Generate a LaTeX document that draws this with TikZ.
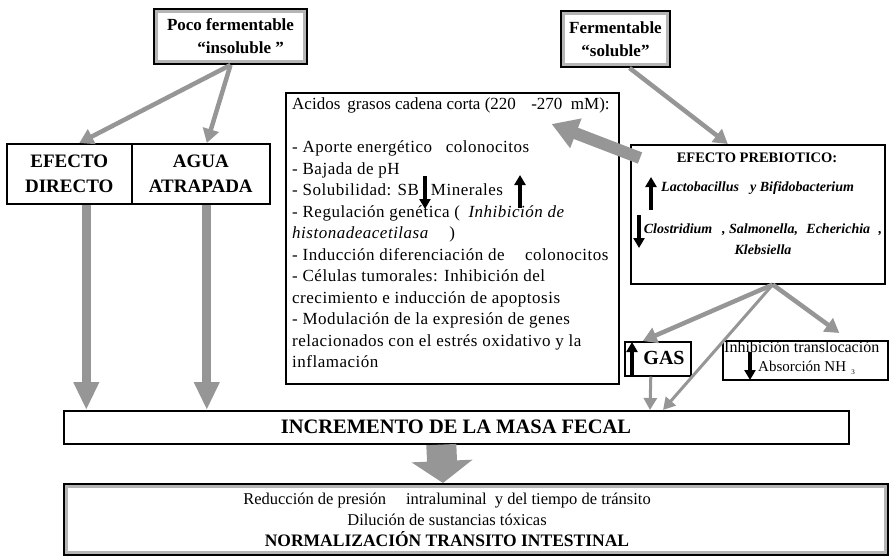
\documentclass[tikz,border=0pt]{standalone}
\usepackage{fontspec}
\setmainfont{Liberation Serif}
\newfontfamily\widefont[LetterSpace=3]{Liberation Serif}
\usetikzlibrary{arrows.meta,calc}
\definecolor{ag}{RGB}{150,150,150}
\tikzset{
  box/.style={draw=black, line width=1.6pt, anchor=north west, inner sep=0pt},
  fbox/.style={draw=black, line width=3pt, anchor=north west, inner sep=0pt, fill=white},
  band/.style={draw=ag!70, line width=3pt},
  thinarrow/.style={draw=ag, line width=4.5pt, -{Triangle[length=14pt,width=16pt]}},
  slimarrow/.style={draw=ag, line width=3pt, -{Triangle[length=12pt,width=13pt]}},
  fatarrow/.style={draw=ag, line width=9pt, -{Triangle[length=28pt,width=24pt]}},
  hugearrow/.style={draw=ag, line width=30pt, -{Triangle[length=22pt,width=60pt]}},
  bigarrow/.style={draw=ag, line width=12pt, -{Triangle[length=26pt,width=30pt]}},
  blk/.style={draw=black, line width=3.6pt, -{Triangle[length=10pt,width=11pt]}},
  lbl/.style={inner sep=0pt, font=\bfseries\fontsize{15}{18}\selectfont, align=center},
  txt/.style={inner sep=0pt, font=\widefont\fontsize{17}{21.5}\selectfont, align=left, anchor=north west},
}
\begin{document}
\begin{tikzpicture}[x=1pt,y=-1pt]
\useasboundingbox (0,0) rectangle (889,559);
% top boxes
\node[fbox, minimum width=152pt, minimum height=54pt] (poco) at (153,8) {};
\draw[band] ($(poco.north west)+(3.5,3.5)$) rectangle ($(poco.south east)+(-3.5,-3.5)$);
\node[lbl, font=\bfseries\fontsize{17}{23}\selectfont] (pocot) at (poco.center) {Poco fermentable\\ \hspace*{1.2em}“insoluble ”};
\node[fbox, minimum width=108pt, minimum height=55pt] (ferm) at (560,10) {};
\draw[band] ($(ferm.north west)+(3.5,3.5)$) rectangle ($(ferm.south east)+(-3.5,-3.5)$);
\node[lbl, font=\bfseries\fontsize{17}{23}\selectfont] (fermt) at (ferm.center) {Fermentable\\ “soluble”};
% efecto directo / agua
\node[box, minimum width=125pt, minimum height=60pt] (efdir) at (6,143) {};
\node[box, minimum width=138pt, minimum height=60pt] (agua) at (131,143) {};
\node[lbl, font=\bfseries\fontsize{19}{25}\selectfont] (efdirt) at (efdir.center) {EFECTO\\DIRECTO};
\node[lbl, font=\bfseries\fontsize{19}{25}\selectfont] (aguat) at (agua.center) {AGUA\\ATRAPADA};
% acids box
\node[box, minimum width=333pt, minimum height=291pt] (acids) at (285,92) {};
\node[txt] (acidst) at (292,98) {{\normalfont\fontsize{17}{21.5}\selectfont Acidos\, grasos cadena corta (220\hspace{0.9em}-270\hspace{0.25em} mM):}\\[21.5pt]
- Aporte energético\hspace{0.8em}colonocitos\\
- Bajada de pH\\
- Solubilidad: SB\hspace{0.7em}Minerales\\
- Regulación genética (\hspace{0.5em}\textit{Inhibición de}\\
\textit{histonadeacetilasa}\hspace{1.2em})\\
- Inducción diferenciación de\hspace{1.2em}colonocitos\\
- Células tumorales: Inhibición del\\
crecimiento e inducción de apoptosis\\
- Modulación de la expresión de genes\\
relacionados con el estrés oxidativo y la\\
inflamación};
\coordinate (sbdown) at (425,176);
\coordinate (minup) at (520,208);
\draw[blk] (sbdown) -- ++(0,33);
\draw[blk] (minup) -- ++(0,-33);
% prebiotico
\node[box, minimum width=254pt, minimum height=139pt] (preb) at (630,144) {};
\node[lbl, font=\bfseries\fontsize{14.5}{16}\selectfont] (prebt) at (757,158) {EFECTO PREBIOTICO:};
\node[lbl, font=\bfseries\itshape\fontsize{14}{16}\selectfont, anchor=west] (lacto) at (661,188) {Lactobacillus\hspace{0.8em}y Bifidobacterium};
\node[lbl, font=\bfseries\itshape\fontsize{14}{21}\selectfont] (clos) at (763,239) {Clostridium\hspace{0.7em}, Salmonella,\hspace{0.6em}Echerichia\hspace{0.6em},\\Klebsiella};
\coordinate (lactoup) at (651,210);
\coordinate (closdown) at (639,215);
\draw[blk] (lactoup) -- ++(0,-33);
\draw[blk] (closdown) -- ++(0,33);
% gas and inhib
\node[box, minimum width=66pt, minimum height=34pt] (gas) at (624,341) {};
\node[lbl, font=\bfseries\fontsize{20}{22}\selectfont] (gast) at (664,358) {GAS};
\coordinate (gasup) at (632,375);
\draw[blk] (gasup) -- ++(0,-33);
\node[box, minimum width=165pt, minimum height=39pt] (inhib) at (722,340) {};
\node[inner sep=0pt, font=\fontsize{16}{18}\selectfont, anchor=west] (inht) at (724,347) {Inhibición translocación};
\node[inner sep=0pt, font=\fontsize{15}{18}\selectfont, anchor=west] (absn) at (758,366) {Absorción NH};
\node[inner sep=0pt, font=\fontsize{7}{8}\selectfont] (sub3) at (853,372) {3};
\coordinate (absdown) at (750,352);
\draw[blk] (absdown) -- ++(0,28);
% incremento and norm
\node[box, minimum width=785pt, minimum height=33pt] (incr) at (63,410) {};
\node[lbl, font=\bfseries\fontsize{20.5}{22}\selectfont] (incrt) at (456,427) {INCREMENTO DE LA MASA FECAL};
\node[fbox, minimum width=823pt, minimum height=70pt] (norm) at (63,483) {};
\draw[band] ($(norm.north west)+(3.5,3.5)$) rectangle ($(norm.south east)+(-3.5,-3.5)$);
\node[inner sep=0pt, font=\fontsize{16.5}{21}\selectfont, align=center] (normt) at (447,520) {Reducción de presión\hspace{1.2em}intraluminal\hspace{0.5em}y del tiempo de tránsito\\Dilución de sustancias tóxicas\\\textbf{\fontsize{17.5}{21}\selectfont NORMALIZACIÓN TRANSITO INTESTINAL}};
% connectors
\draw[thinarrow] (poco.south) -- ($(efdir.north)+(10,0)$);
\draw[thinarrow] (poco.south) -- ($(agua.north)+(6,0)$);
\draw[thinarrow] ($(ferm.south)+(14,0)$) -- ($(preb.north)+(-30,0)$);
\draw[bigarrow] ($(preb.north west)+(10,14)$) -- ($(acids.north east)+(-68,32)$);
\coordinate (pbs) at ($(preb.south)+(15,0)$);
\draw[thinarrow] (pbs) -- ($(gas.north)+(-15,0)$);
\draw[thinarrow] (pbs) -- ($(inhib.north)+(34,-7)$);
\draw[slimarrow] (pbs) -- ($(incr.north west)+(600,0)$);
\draw[slimarrow] ($(gas.south)+(-7,0)$) -- ($(incr.north west)+(587,0)$);
\coordinate (efs) at ($(efdir.south)+(17,0)$);
\coordinate (ags) at ($(agua.south)+(6,0)$);
\draw[fatarrow] (efs) -- (efs |- incr.north);
\draw[fatarrow] (ags) -- (ags |- incr.north);
\draw[hugearrow] ($(incr.south)+(-15,0)$) -- ($(norm.north)+(-33,0)$);
\end{tikzpicture}
\end{document}
